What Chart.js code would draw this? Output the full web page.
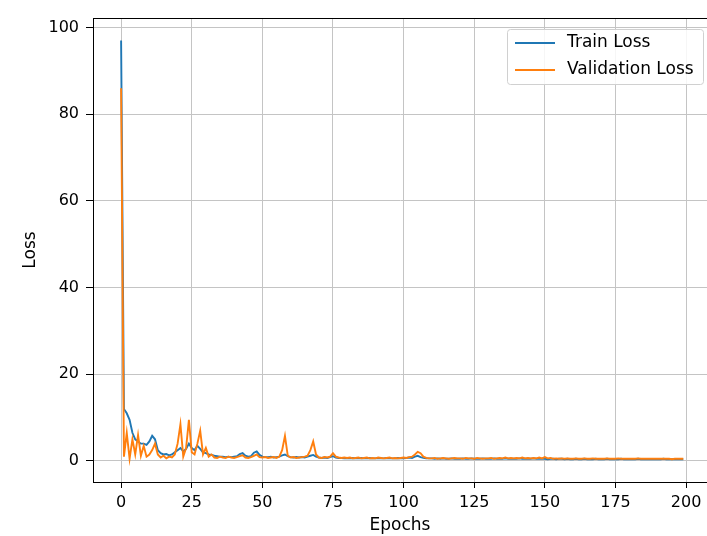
<!DOCTYPE html>
<html>
<head>
<meta charset="utf-8">
<script src="https://cdn.jsdelivr.net/npm/chart.js@4.4.1/dist/chart.umd.min.js"></script>
<style>
  html, body { margin: 0; padding: 0; background: #fff; overflow: hidden; }
  #wrap { width: 707px; height: 536px; }
</style>
</head>
<body>
<div id="wrap"><canvas id="lossChart" width="707" height="536"></canvas></div>
<script>
// 训练损失 (每个 epoch 一个值, 0..199)
const trainLoss = [
  97, 12, 11, 9.5, 6.5, 5, 4.5, 4, 4, 3.7,
  4.5, 5.8, 5, 2.5, 1.8, 1.5, 1.6, 1.3, 1.5, 2,
  2.5, 3, 2.2, 2.8, 4, 3, 2.5, 3.5, 2.8, 2,
  1.8, 1.5, 1.4, 1.2, 1.1, 1, 1, 0.9, 1, 0.9,
  1, 1.1, 1.6, 1.8, 1.2, 1, 1.1, 1.9, 2.2, 1.4,
  1, 0.9, 0.9, 1, 0.8, 0.9, 1, 1.3, 1.5, 1.1,
  0.9, 0.8, 0.9, 0.8, 0.9, 0.8, 1, 1.2, 1.4, 1,
  0.8, 0.7, 0.8, 0.7, 0.9, 1.1, 0.8, 0.7, 0.7, 0.6,
  0.7, 0.6, 0.7, 0.6, 0.6, 0.7, 0.6, 0.6, 0.7, 0.6,
  0.6, 0.7, 0.6, 0.6, 0.7, 0.6, 0.6, 0.6, 0.7, 0.6,
  0.6, 0.7, 0.8, 0.7, 1, 1.2, 0.9, 0.7, 0.6, 0.6,
  0.6, 0.5, 0.6, 0.5, 0.6, 0.5, 0.5, 0.6, 0.5, 0.5,
  0.5, 0.6, 0.5, 0.5, 0.6, 0.5, 0.5, 0.5, 0.6, 0.5,
  0.5, 0.5, 0.6, 0.5, 0.5, 0.5, 0.6, 0.5, 0.5, 0.5,
  0.5, 0.6, 0.5, 0.5, 0.5, 0.5, 0.6, 0.5, 0.5, 0.5,
  0.5, 0.4, 0.5, 0.5, 0.4, 0.5, 0.5, 0.4, 0.5, 0.4,
  0.4, 0.5, 0.4, 0.4, 0.5, 0.4, 0.4, 0.4, 0.5, 0.4,
  0.4, 0.4, 0.5, 0.4, 0.4, 0.4, 0.4, 0.5, 0.4, 0.4,
  0.4, 0.4, 0.4, 0.5, 0.4, 0.4, 0.4, 0.4, 0.4, 0.4,
  0.4, 0.4, 0.5, 0.4, 0.4, 0.4, 0.4, 0.4, 0.4, 0.4
];

// 验证损失
const valLoss = [
  86, 1, 6.5, 0.5, 5, 1.5, 6, 1.2, 3.5, 1,
  1.5, 2.5, 4, 1.5, 0.8, 1.2, 0.6, 1, 0.8, 1.5,
  4, 8.5, 1, 3, 9.5, 2, 1.5, 4, 7, 1.5,
  3, 1, 1.5, 0.8, 0.7, 1, 0.8, 0.7, 1, 0.8,
  0.7, 0.9, 1.1, 1.3, 0.8, 0.7, 0.9, 1.2, 1.5, 0.9,
  0.8, 0.9, 0.7, 0.8, 0.9, 0.7, 1, 2.5, 5.8, 1.2,
  0.8, 0.9, 0.7, 0.8, 0.9, 1, 1.2, 2.5, 4.5, 1.5,
  0.8, 0.7, 0.9, 0.8, 1, 1.8, 1, 0.8, 0.7, 0.8,
  0.7, 0.8, 0.6, 0.7, 0.8, 0.6, 0.7, 0.8, 0.6, 0.7,
  0.6, 0.8, 0.7, 0.6, 0.7, 0.8, 0.6, 0.7, 0.6, 0.7,
  0.8, 0.7, 0.9, 1, 1.5, 2.1, 1.8, 1, 0.7, 0.6,
  0.6, 0.7, 0.5, 0.6, 0.7, 0.6, 0.5, 0.6, 0.7, 0.6,
  0.6, 0.5, 0.7, 0.6, 0.6, 0.5, 0.7, 0.6, 0.5, 0.6,
  0.6, 0.7, 0.5, 0.6, 0.7, 0.6, 0.8, 0.6, 0.7, 0.6,
  0.7, 0.6, 0.8, 0.6, 0.7, 0.6, 0.7, 0.6, 0.8, 0.6,
  0.9, 0.6, 0.7, 0.5, 0.6, 0.5, 0.6, 0.5, 0.6, 0.5,
  0.5, 0.6, 0.5, 0.5, 0.6, 0.5, 0.5, 0.6, 0.5, 0.5,
  0.5, 0.5, 0.6, 0.5, 0.5, 0.5, 0.6, 0.5, 0.5, 0.5,
  0.5, 0.5, 0.5, 0.6, 0.5, 0.5, 0.5, 0.5, 0.5, 0.5,
  0.5, 0.5, 0.5, 0.5, 0.5, 0.4, 0.5, 0.5, 0.5, 0.5
];

// 刻度
const xTicks = [0, 25, 50, 75, 100, 125, 150, 175, 200];
const yTicks = [0, 20, 40, 60, 80, 100];

const TICK_FONT = { family: 'DejaVu Sans', size: 16 };
const LABEL_FONT = { family: 'DejaVu Sans', size: 17 };

// 上边框 + matplotlib 风格图例
const framePlugin = {
  id: 'frame',
  afterDraw(chart) {
    const { ctx, chartArea } = chart;
    ctx.save();
    ctx.strokeStyle = '#000';
    ctx.lineWidth = 1;
    ctx.beginPath();
    ctx.moveTo(chartArea.left, chartArea.top + 0.5);
    ctx.lineTo(chartArea.right, chartArea.top + 0.5);
    ctx.stroke();

    // 图例
    const boxW = 196, boxH = 55;
    const bx = chartArea.right - boxW - 4, by = chartArea.top + 11;
    ctx.fillStyle = 'rgba(255,255,255,0.85)';
    ctx.strokeStyle = '#d0d0d0';
    ctx.beginPath();
    ctx.roundRect(bx + 0.5, by + 0.5, boxW, boxH, 3);
    ctx.fill();
    ctx.stroke();

    const items = [chart.data.datasets[0], chart.data.datasets[1]];
    ctx.font = '17px "DejaVu Sans"';
    ctx.textBaseline = 'middle';
    items.forEach((ds, i) => {
      const y = by + 14 + i * 27;
      ctx.strokeStyle = ds.borderColor;
      ctx.lineWidth = 2;
      ctx.beginPath();
      ctx.moveTo(bx + 8, y);
      ctx.lineTo(bx + 48, y);
      ctx.stroke();
      ctx.fillStyle = '#000';
      ctx.fillText(ds.label, bx + 60, y);
    });
    ctx.restore();
  }
};

const ctx = document.getElementById('lossChart').getContext('2d');
new Chart(ctx, {
  type: 'line',
  data: {
    datasets: [
      { label: 'Train Loss', data: trainLoss.map((v, i) => ({ x: i, y: v })), borderColor: '#1f77b4', borderWidth: 1.9, pointRadius: 0, tension: 0, order: 1 },
      { label: 'Validation Loss', data: valLoss.map((v, i) => ({ x: i, y: v })), borderColor: '#ff7f0e', borderWidth: 1.9, pointRadius: 0, tension: 0, order: 0 }
    ]
  },
  options: {
    responsive: false,
    animation: false,
    layout: { padding: { left: 0, right: 0, top: 18, bottom: 0 } },
    plugins: { legend: { display: false }, tooltip: { enabled: false } },
    scales: {
      x: {
        type: 'linear',
        min: -9.95,
        max: 207.4,
        afterBuildTicks: s => { s.ticks = xTicks.map(v => ({ value: v })); },
        afterFit: s => { s.height = 54; },
        grid: { color: '#c4c4c4', lineWidth: 1, tickColor: '#000', tickLength: 6 },
        border: { color: '#000', width: 1 },
        ticks: { color: '#000', font: TICK_FONT, padding: 5, maxRotation: 0 },
        title: { display: true, text: 'Epochs', color: '#000', font: LABEL_FONT, padding: { top: 1, bottom: 0 } }
      },
      y: {
        min: -4.85,
        max: 102.2,
        afterBuildTicks: s => { s.ticks = yTicks.map(v => ({ value: v })); },
        afterFit: s => { s.width = 93; },
        grid: { color: '#c4c4c4', lineWidth: 1, tickColor: '#000', tickLength: 7 },
        border: { color: '#000', width: 1 },
        ticks: { color: '#000', font: TICK_FONT, padding: 7 },
        title: { display: true, text: 'Loss', color: '#000', font: LABEL_FONT, padding: { top: 20, bottom: 0 } }
      }
    }
  },
  plugins: [framePlugin]
});
</script>
</body>
</html>
